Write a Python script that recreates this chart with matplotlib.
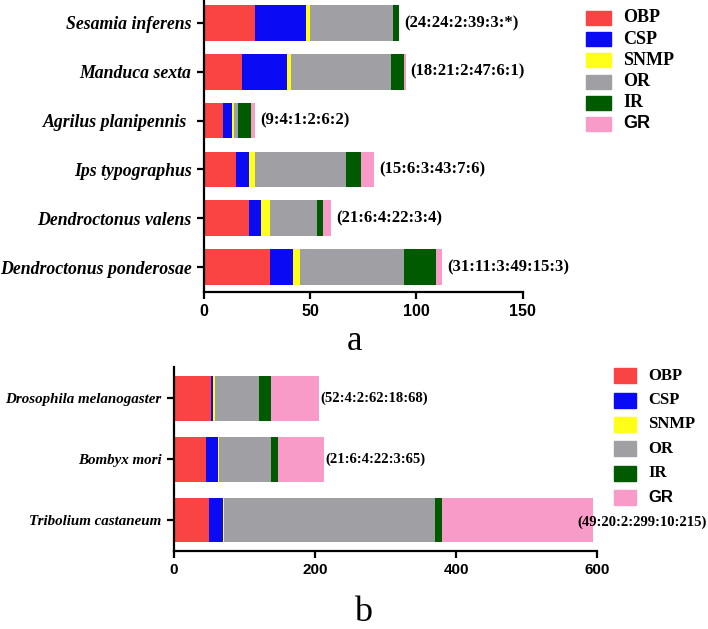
import numpy as np
import matplotlib
matplotlib.use("Agg")
import matplotlib.pyplot as plt

families = ["OBP", "CSP", "SNMP", "OR", "IR", "GR"]
colors = ["#FA4343", "#0A0AF5", "#FFFF1A", "#A0A0A4", "#005A00", "#F99BC8"]

# panel a (bottom to top)
species_a = ["Dendroctonus ponderosae", "Dendroctonus valens", "Ips typographus",
             "Agrilus planipennis ", "Manduca sexta", "Sesamia inferens"]
obp_a = [31, 21, 15, 9, 18, 24]
csp_a = [11, 6, 6, 4, 21, 24]
snmp_a = [3, 4, 3, 1, 2, 2]
or_a = [49, 22, 43, 2, 47, 39]
ir_a = [15, 3, 7, 6, 6, 3]
gr_a = [3, 4, 6, 2, 1, 0]
notes_a = ["(31:11:3:49:15:3)", "(21:6:4:22:3:4)", "(15:6:3:43:7:6)",
           "(9:4:1:2:6:2)", "(18:21:2:47:6:1)", "(24:24:2:39:3:*)"]

# panel b (bottom to top)
species_b = ["Tribolium castaneum", "Bombyx mori", "Drosophila melanogaster"]
obp_b = [49, 45, 52]
csp_b = [20, 17, 4]
snmp_b = [2, 2, 2]
or_b = [299, 73, 62]
ir_b = [10, 11, 18]
gr_b = [215, 65, 68]
notes_b = ["(49:20:2:299:10:215)", "(21:6:4:22:3:65)", "(52:4:2:62:18:68)"]

SERIF = "Liberation Serif"
SANS = "Liberation Sans"


def stacked(ax, species, series, notes, xmax, xticks, ylab_size, note_size,
            note_gap, tick_size, last_note_at=None):
    y = np.arange(len(species))
    left = np.zeros(len(species))
    for vals, c in zip(series, colors):
        ax.barh(y, vals, left=left, height=0.73, color=c, linewidth=0)
        left = left + np.array(vals)
    for i, t in enumerate(notes):
        if last_note_at is not None and i == 0:
            ax.text(last_note_at, y[i] - 0.04, t, va="center", ha="left",
                    fontfamily=SERIF, fontweight="bold", fontsize=note_size)
        else:
            ax.annotate(t, (left[i], y[i]), xytext=(note_gap, 0),
                        textcoords="offset points", va="center", ha="left",
                        fontfamily=SERIF, fontweight="bold", fontsize=note_size)
    ax.set_yticks(y)
    ax.set_yticklabels(species, fontfamily=SERIF, fontstyle="italic",
                       fontweight="bold", fontsize=ylab_size)
    ax.set_xticks(xticks)
    ax.set_xticklabels([str(v) for v in xticks], fontfamily=SANS,
                       fontweight="bold", fontsize=tick_size)
    ax.set_xlim(0, xmax)
    for s in ["top", "right"]:
        ax.spines[s].set_visible(False)
    for s in ["left", "bottom"]:
        ax.spines[s].set_linewidth(1.6)
    ax.tick_params(width=1.6, length=5, pad=4)


def legend(fig, x0, y0, pitch, w, h, size):
    for i, (name, c) in enumerate(zip(families, colors)):
        yy = y0 - i * pitch
        fig.patches.append(plt.Rectangle((x0, yy - h / 2), w, h, color=c,
                                         transform=fig.transFigure, figure=fig))
        fam = SANS if name == "GR" else SERIF
        fig.text(x0 + w + 12 / 708, yy, name, va="center", ha="left",
                 fontfamily=fam, fontweight="bold", fontsize=size)


fig = plt.figure(figsize=(7.08, 6.29), dpi=100)

ax1 = fig.add_axes([204 / 708, 1 - 292 / 629, (522.7 - 204) / 708, 291 / 629])
stacked(ax1, species_a, [obp_a, csp_a, snmp_a, or_a, ir_a, gr_a], notes_a,
        150, [0, 50, 100, 150], 12.8, 12, 3.5, 11.5)
ax1.set_ylim(-0.51, 5.45)

ax2 = fig.add_axes([174 / 708, 1 - 550.7 / 629, (597 - 174) / 708, 184 / 629])
stacked(ax2, species_b, [obp_b, csp_b, snmp_b, or_b, ir_b, gr_b], notes_b,
        600, [0, 200, 400, 600], 10.8, 10.5, 1, 11, last_note_at=572)
ax2.set_ylim(-0.5, 2.52)

legend(fig, 586 / 708, 1 - 18 / 629, 21.2 / 629, 25 / 708, 14 / 629, 13)
legend(fig, 614 / 708, 1 - 375.7 / 629, 24.4 / 629, 22 / 708, 15 / 629, 12)

fig.text(355 / 708, 1 - 350 / 629, "a", ha="center", va="baseline",
         fontfamily=SERIF, fontsize=25)
fig.text(363 / 708, 1 - 621 / 629, "b", ha="center", va="baseline",
         fontfamily=SERIF, fontsize=26)

fig.savefig("out.png", dpi=100)
